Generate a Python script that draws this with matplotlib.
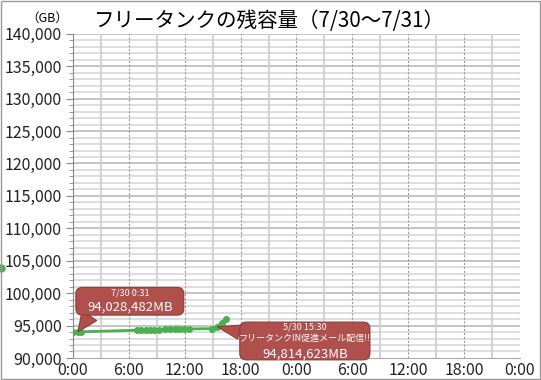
import matplotlib
matplotlib.use("Agg")
import matplotlib.pyplot as plt
from matplotlib.patches import Rectangle

plt.rcParams['font.family'] = ['Noto Sans CJK JP', 'DejaVu Sans']

# hours since 7/30 0:00, remaining capacity in GB
hours = [0.0, 0.52, 0.9, 6.9, 7.35, 7.8, 8.3, 8.75, 9.25, 9.85, 10.4,
         10.95, 11.4, 11.9, 12.45, 14.9, 15.5, 15.95, 16.4]
remain = [93980, 94028, 94040, 94280, 94300, 94320, 94340, 94360, 94380,
          94400, 94420, 94440, 94450, 94460, 94480, 94520, 94815, 95450, 96050]
stray_x = [-7.75]
stray_y = [103900]

xtick_pos = [0, 6, 12, 18, 24, 30, 36, 42, 48]
xtick_labels = ['0:00', '6:00', '12:00', '18:00', '0:00', '6:00', '12:00', '18:00', '0:00']
ytick_pos = list(range(90000, 140001, 5000))

green = '#4CAF50'
box_fc = '#B0504C'
box_ec = '#8E3B38'

fig = plt.figure(figsize=(5.41, 3.80), dpi=100)
ax = fig.add_axes([0.135, 0.058, 0.826, 0.853])

ax.set_xlim(0, 48)
ax.set_ylim(90000, 140000)

# grid
for y in range(91000, 140001, 1000):
    c = '#c4c4c4' if y % 5000 == 0 else '#dedede'
    ax.axhline(y, color=c, lw=1.4, zorder=0)
for x in range(3, 49, 3):
    if x % 6 == 0:
        ax.axvline(x, color='#999999', lw=0.8, ls=(0, (2, 1.5)), zorder=0.5)
    else:
        ax.axvline(x, color='#d0d0d0', lw=1.3, zorder=0.4)

ax.plot(hours, remain, color=green, lw=2, marker='o', ms=4, zorder=3)
ax.plot(stray_x, stray_y, color=green, marker='o', ms=5, ls='none', clip_on=False)

ax.set_xticks(xtick_pos)
ax.set_xticklabels(xtick_labels, fontsize=11.5, color='#222222')
ax.set_yticks(ytick_pos)
ax.set_yticklabels([f'{v:,}' for v in ytick_pos], fontsize=11.5, color='#222222')
ax.set_yticks(range(90000, 140001, 1000), minor=True)
ax.tick_params(axis='x', length=0, pad=3)
ax.tick_params(axis='y', which='major', length=5, color='#888888', pad=3)
ax.tick_params(axis='y', which='minor', length=3, color='#888888')

for s in ['top', 'right']:
    ax.spines[s].set_visible(False)
ax.spines['left'].set_color('#888888')
ax.spines['bottom'].set_color('#aaaaaa')

fig.text(0.497, 0.945, 'フリータンクの残容量（7/30～7/31）', fontsize=14.8,
         ha='center', va='center')
fig.text(0.087, 0.953, '（GB）', fontsize=9, ha='center', va='center')

# callout boxes: the box is sized by a blank placeholder of ideographic spaces,
# the real lines are written on top of it
def callout(xy, center, n_em, n_lines, relpos, tail):
    ph = '\n'.join(['\u3000' * n_em] * n_lines)
    ax.annotate(ph, xy=xy, xytext=center, fontsize=8, ha='center', va='center',
                linespacing=1.0, zorder=5,
                bbox=dict(boxstyle='round,pad=0.35,rounding_size=0.6',
                          fc=box_fc, ec=box_ec, lw=0.8),
                arrowprops=dict(arrowstyle=f'wedge,tail_width={tail},shrink_factor=0.5',
                                fc=box_fc, ec=box_ec, lw=0.8, relpos=relpos,
                                shrinkA=0, shrinkB=0))

callout((hours[1], remain[1]), (6.1, 98750), 9, 2, (0.13, 0.02), 1.6)
ax.annotate('7/30 0:31', xy=(6.1, 98750), xytext=(0, 6), textcoords='offset points',
            fontsize=6.5, color='white', ha='center', va='center', zorder=6)
ax.annotate('94,028,482MB', xy=(6.1, 98750), xytext=(0, -4.5), textcoords='offset points',
            fontsize=9.5, color='white', ha='center', va='center', zorder=6)

callout((hours[16], remain[16]), (24.9, 92620), 11, 3, (0.01, 0.75), 1.3)
ax.annotate('5/30 15:30\nフリータンクIN促進メール配信!!', xy=(24.9, 92620), xytext=(0, 6),
            textcoords='offset points', fontsize=6.5, color='white',
            ha='center', va='center', linespacing=1.25, zorder=6)
ax.annotate('94,814,623MB', xy=(24.9, 92620), xytext=(0, -9.5),
            textcoords='offset points', fontsize=9.5, color='white',
            ha='center', va='center', zorder=6)

fig.patches.append(Rectangle((0.001, 0.002), 0.997, 0.995, transform=fig.transFigure,
                             fill=False, ec='#999999', lw=1))

fig.savefig('out.png', dpi=100)
